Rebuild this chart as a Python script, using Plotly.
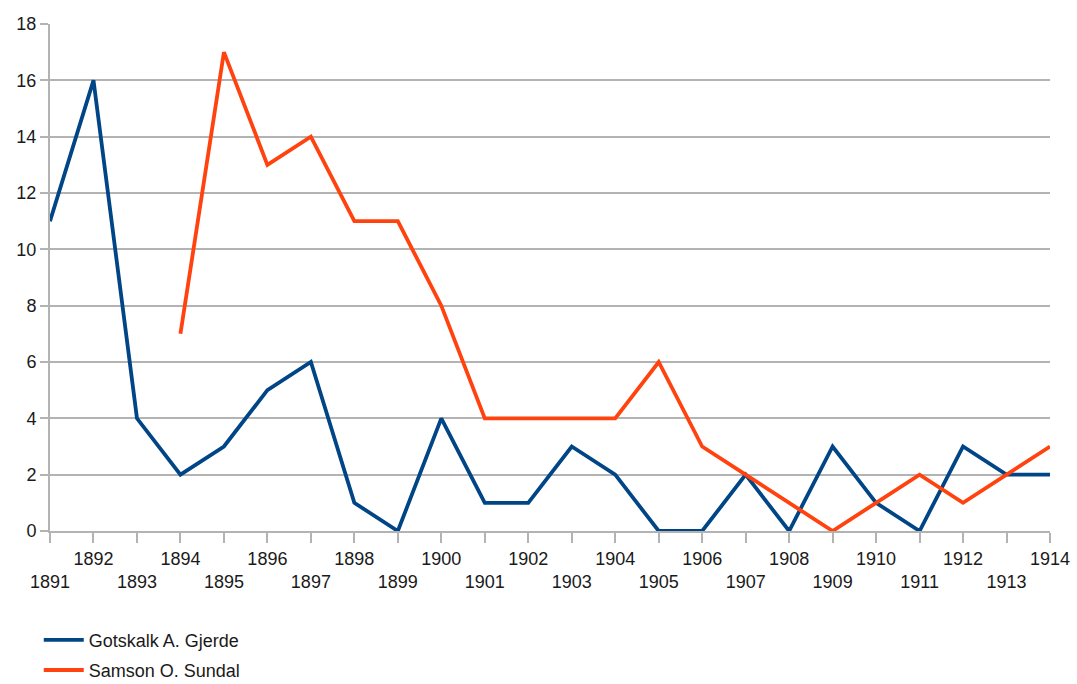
import plotly.graph_objects as go

years = list(range(1891, 1915))
gjerde = [11, 16, 4, 2, 3, 5, 6, 1, 0, 4, 1, 1, 3, 2, 0, 0, 2, 0, 3, 1, 0, 3, 2, 2]
sundal_years = list(range(1894, 1915))
sundal = [7, 17, 13, 14, 11, 11, 8, 4, 4, 4, 4, 6, 3, 2, 1, 0, 1, 2, 1, 2, 3]
y_ticks = list(range(0, 19, 2))

# even years on the first label row, odd years pushed to the second row
tick_text = [str(y) if y % 2 == 0 else "<br>" + str(y) for y in years]

fig = go.Figure()
fig.add_trace(go.Scatter(x=years, y=gjerde, mode="lines", name="Gotskalk A. Gjerde",
                         line=dict(color="#004586", width=3.8), legend="legend"))
fig.add_trace(go.Scatter(x=sundal_years, y=sundal, mode="lines", name="Samson O. Sundal",
                         line=dict(color="#ff420e", width=3.8), legend="legend2"))

legend_style = dict(xref="container", yref="container", x=0.036,
                    xanchor="left", yanchor="middle",
                    font=dict(size=18, color="#1a1a1a"),
                    bgcolor="rgba(0,0,0,0)", itemwidth=40)

fig.update_layout(
    width=1077, height=684,
    margin=dict(l=50, r=27, t=24, b=153, autoexpand=False),
    paper_bgcolor="white", plot_bgcolor="white",
    font=dict(family="Liberation Sans, Arial, sans-serif", size=18, color="#1a1a1a"),
    showlegend=True,
    legend=dict(y=0.064, **legend_style),
    legend2=dict(y=0.02, **legend_style),
)
fig.update_xaxes(range=[1891, 1914], tickmode="array", tickvals=years, ticktext=tick_text,
                 showgrid=False, showline=True, linecolor="#b3b3b3", linewidth=2,
                 ticks="outside", ticklen=10, tickcolor="#b3b3b3", tickwidth=2,
                 zeroline=False, tickangle=0)
fig.update_yaxes(range=[0, 18], tickmode="array", tickvals=y_ticks,
                 showgrid=True, gridcolor="#b3b3b3", gridwidth=1.5,
                 showline=True, linecolor="#b3b3b3", linewidth=2,
                 ticks="outside", ticklen=8, tickcolor="#b3b3b3", tickwidth=2,
                 zeroline=False)

fig.write_html("out.html")
